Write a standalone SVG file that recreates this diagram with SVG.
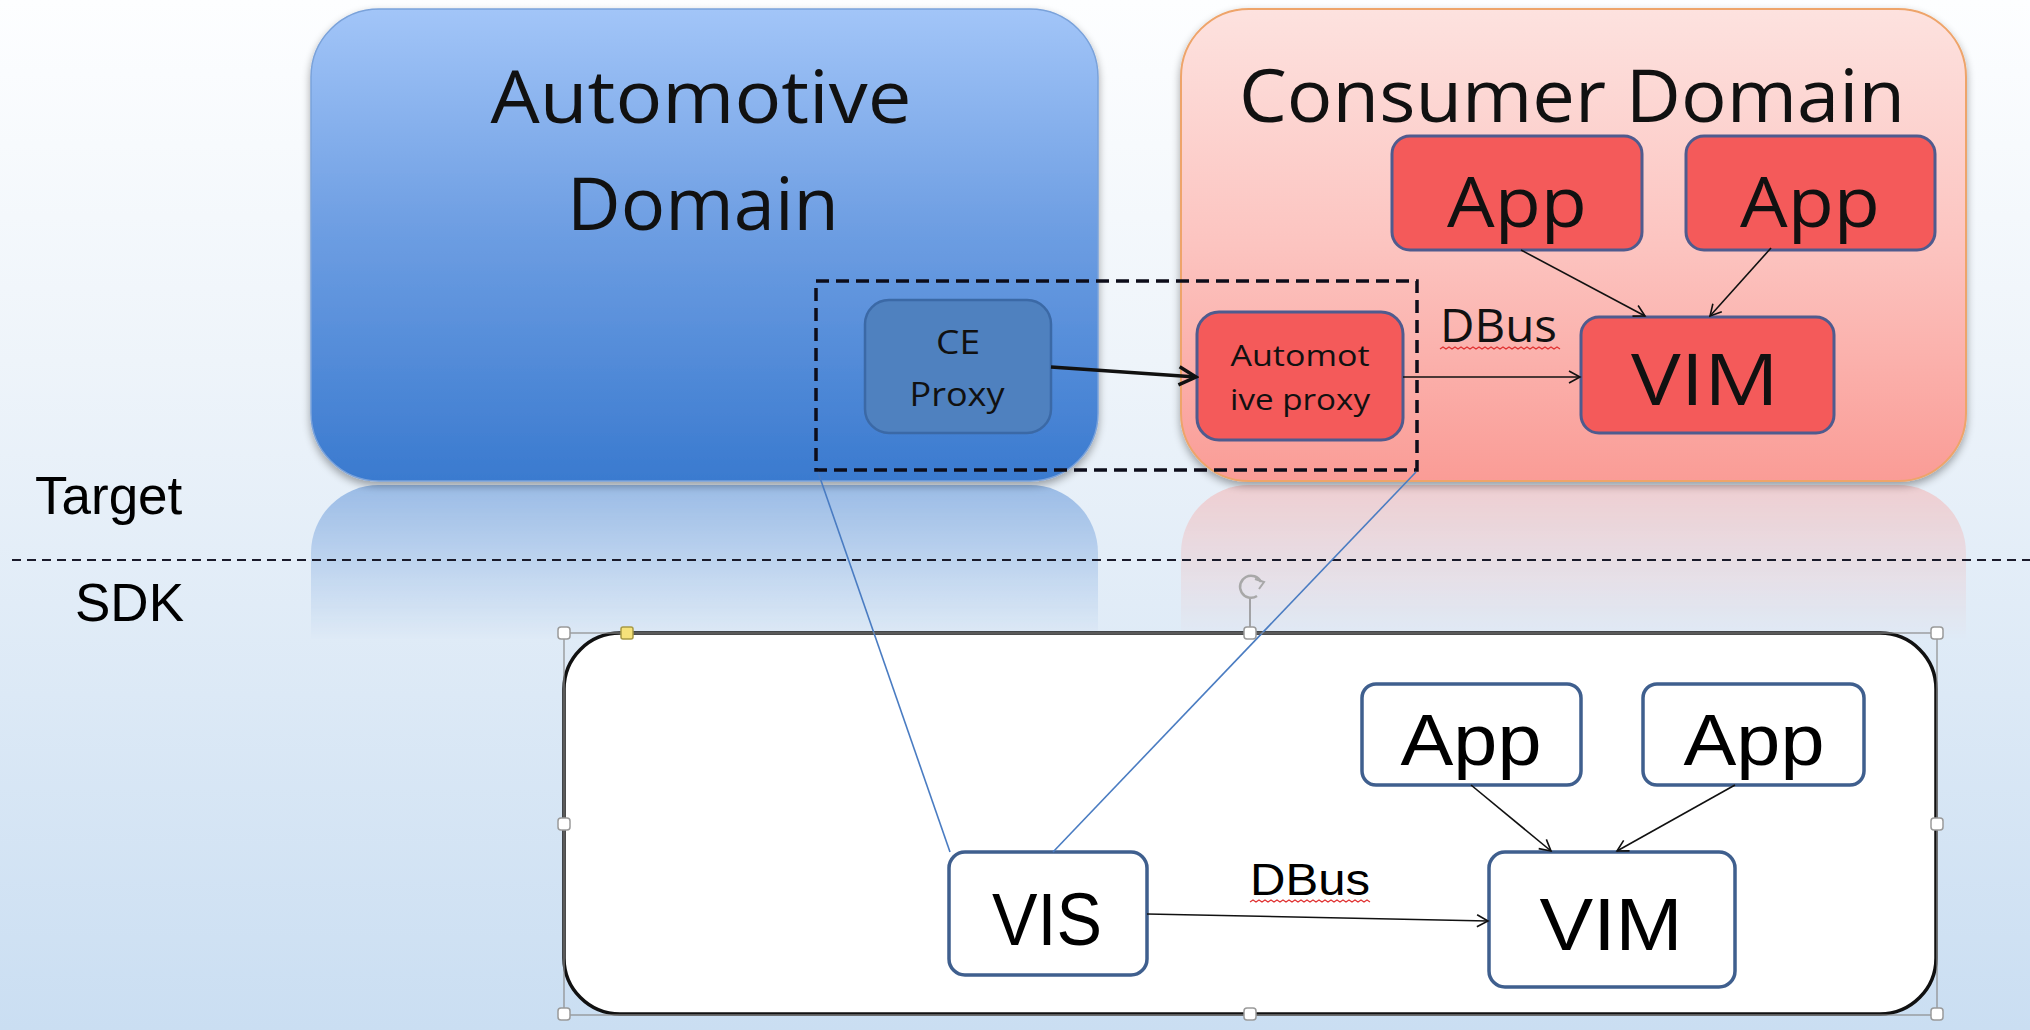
<svg xmlns="http://www.w3.org/2000/svg" width="2030" height="1030" viewBox="0 0 2030 1030">
<defs>
<linearGradient id="bg" x1="0" y1="0" x2="0" y2="1030" gradientUnits="userSpaceOnUse">
<stop offset="0" stop-color="#fdfeff"/><stop offset="0.35" stop-color="#eef4fa"/><stop offset="1" stop-color="#cadef2"/>
</linearGradient>
<linearGradient id="blueG" x1="0" y1="9" x2="0" y2="481" gradientUnits="userSpaceOnUse">
<stop offset="0" stop-color="#a2c5f8"/><stop offset="0.45" stop-color="#6f9fe3"/><stop offset="1" stop-color="#3a7acf"/>
</linearGradient>
<linearGradient id="pinkG" x1="0" y1="9" x2="0" y2="481" gradientUnits="userSpaceOnUse">
<stop offset="0" stop-color="#fde2df"/><stop offset="0.5" stop-color="#fcc4c0"/><stop offset="1" stop-color="#fa9c96"/>
</linearGradient>
<linearGradient id="reflG" x1="0" y1="483" x2="0" y2="640" gradientUnits="userSpaceOnUse">
<stop offset="0" stop-color="#fff" stop-opacity="0.45"/><stop offset="1" stop-color="#fff" stop-opacity="0"/>
</linearGradient>
<mask id="reflM" maskUnits="userSpaceOnUse" x="0" y="480" width="2030" height="200">
<rect x="0" y="480" width="2030" height="200" fill="url(#reflG)"/>
</mask>
<filter id="shadow" x="-5%" y="-5%" width="110%" height="115%">
<feGaussianBlur in="SourceAlpha" stdDeviation="4"/>
<feOffset dy="4" result="b"/>
<feComponentTransfer><feFuncA type="linear" slope="0.35"/></feComponentTransfer>
<feMerge><feMergeNode/><feMergeNode in="SourceGraphic"/></feMerge>
</filter>
<marker id="arr" viewBox="0 0 16 16" refX="14" refY="8" markerWidth="16" markerHeight="16" markerUnits="userSpaceOnUse" orient="auto">
<path d="M3,2 L14,8 L3,14" fill="none" stroke="#111" stroke-width="1.6"/>
</marker>
<marker id="arrThick" viewBox="0 0 24 24" refX="21" refY="12" markerWidth="24" markerHeight="24" markerUnits="userSpaceOnUse" orient="auto">
<path d="M4,3 L21,12 L4,21" fill="none" stroke="#111" stroke-width="3.5"/>
</marker>
<style>
.cal{font-family:"Open Sans","Noto Sans","Liberation Sans",sans-serif;fill:#111}
.ari{font-family:"Liberation Sans",Arial,sans-serif;fill:#000}
.red{fill:#f45a5a;stroke:#4f5b8e;stroke-width:3}
.wnode{fill:#fff;stroke:#3f5f8e;stroke-width:3.5}
.conn{fill:none;stroke:#111;stroke-width:1.6}
.blue{fill:none;stroke:#4a7cc2;stroke-width:1.6}
.handle{fill:#fff;stroke:#9a9a9a;stroke-width:1.5}
.squig{fill:none;stroke:#e03030;stroke-width:1.2}
</style>
</defs>

<rect x="0" y="0" width="2030" height="1030" fill="url(#bg)"/>

<!-- reflections -->
<g mask="url(#reflM)">
<rect x="311" y="485" width="787" height="472" rx="68" fill="#3a7acf"/>
<rect x="1181" y="485" width="785" height="472" rx="68" fill="#f7a4a0"/>
</g>

<!-- Target / SDK separator -->
<g id="separator">
<line x1="12" y1="560" x2="2030" y2="560" stroke="#1a1a2a" stroke-width="2" stroke-dasharray="9 6"/>
<text class="ari" x="35" y="514" font-size="53">Target</text>
<text class="ari" x="75" y="621" font-size="53">SDK</text>
</g>

<g id="automotive-domain">
<rect x="311" y="9" width="787" height="472" rx="68" fill="url(#blueG)" stroke="#7aa2da" stroke-width="1.5" filter="url(#shadow)"/>
<text class="cal" x="701" y="123" font-size="73" text-anchor="middle" textLength="421" lengthAdjust="spacingAndGlyphs">Automotive</text>
<text class="cal" x="703" y="230" font-size="73" text-anchor="middle" textLength="272" lengthAdjust="spacingAndGlyphs">Domain</text>
</g>

<g id="consumer-domain">
<rect x="1181" y="9" width="785" height="472" rx="68" fill="url(#pinkG)" stroke="#eea46a" stroke-width="2" filter="url(#shadow)"/>
<text class="cal" x="1572" y="122" font-size="73" text-anchor="middle" textLength="666" lengthAdjust="spacingAndGlyphs">Consumer Domain</text>
</g>

<g id="ce-proxy">
<rect x="865" y="300" width="186" height="133" rx="24" fill="#4f81bf" stroke="#3b69a6" stroke-width="2.5"/>
<text class="cal" x="958" y="354" font-size="32" text-anchor="middle" textLength="44" lengthAdjust="spacingAndGlyphs" fill="#1a1f33">CE</text>
<text class="cal" x="957" y="406" font-size="32" text-anchor="middle" textLength="95" lengthAdjust="spacingAndGlyphs" fill="#1a1f33">Proxy</text>
</g>

<g id="automotive-proxy">
<rect class="red" x="1197" y="312" width="206" height="128" rx="22"/>
<text class="cal" x="1300" y="366" font-size="30" text-anchor="middle" textLength="139" lengthAdjust="spacingAndGlyphs" fill="#2a0808">Automot</text>
<text class="cal" x="1300" y="410" font-size="30" text-anchor="middle" textLength="140" lengthAdjust="spacingAndGlyphs" fill="#2a0808">ive proxy</text>
</g>

<g id="app-target-1">
<rect class="red" x="1392" y="136" width="250" height="114" rx="18"/>
<text class="cal" x="1517" y="227" font-size="70" text-anchor="middle" textLength="140" lengthAdjust="spacingAndGlyphs">App</text>
</g>
<g id="app-target-2">
<rect class="red" x="1686" y="136" width="249" height="114" rx="18"/>
<text class="cal" x="1810" y="227" font-size="70" text-anchor="middle" textLength="140" lengthAdjust="spacingAndGlyphs">App</text>
</g>
<g id="vim-target">
<rect class="red" x="1581" y="317" width="253" height="116" rx="18"/>
<text class="cal" x="1705" y="405" font-size="71" text-anchor="middle" textLength="148" lengthAdjust="spacingAndGlyphs">VIM</text>
</g>

<g id="dbus-target-label">
<text class="cal" x="1440" y="342" font-size="46" textLength="117" lengthAdjust="spacingAndGlyphs">DBus</text>
<path class="squig" d="M1440,349 l3,-2 l3,2 l3,-2 l3,2 l3,-2 l3,2 l3,-2 l3,2 l3,-2 l3,2 l3,-2 l3,2 l3,-2 l3,2 l3,-2 l3,2 l3,-2 l3,2 l3,-2 l3,2 l3,-2 l3,2 l3,-2 l3,2 l3,-2 l3,2 l3,-2 l3,2 l3,-2 l3,2 l3,-2 l3,2 l3,-2 l3,2 l3,-2 l3,2 l3,-2 l3,2 l3,-2 l3,2"/>
</g>

<!-- dashed grouping box -->
<g id="proxy-group">
<rect x="816" y="281" width="601" height="189" fill="none" stroke="#0d0d1a" stroke-width="3.5" stroke-dasharray="13 7"/>
</g>

<!-- SDK box -->
<g id="sdk-box">
<rect x="564" y="633" width="1372" height="381" rx="56" fill="#fff" stroke="#111" stroke-width="3.5"/>
</g>

<g id="app-sdk-1">
<rect class="wnode" x="1362" y="684" width="219" height="101" rx="14"/>
<text class="ari" x="1471" y="765" font-size="72" text-anchor="middle" textLength="141" lengthAdjust="spacingAndGlyphs">App</text>
</g>
<g id="app-sdk-2">
<rect class="wnode" x="1643" y="684" width="221" height="101" rx="14"/>
<text class="ari" x="1754" y="765" font-size="72" text-anchor="middle" textLength="141" lengthAdjust="spacingAndGlyphs">App</text>
</g>
<g id="vis">
<rect class="wnode" x="949" y="852" width="198" height="123" rx="16"/>
<text class="ari" x="1047" y="945" font-size="74" text-anchor="middle" textLength="110" lengthAdjust="spacingAndGlyphs">VIS</text>
</g>
<g id="vim-sdk">
<rect class="wnode" x="1489" y="852" width="246" height="135" rx="16"/>
<text class="ari" x="1611" y="950" font-size="74" text-anchor="middle" textLength="143" lengthAdjust="spacingAndGlyphs">VIM</text>
</g>
<g id="dbus-sdk-label">
<text class="ari" x="1250" y="895" font-size="45" textLength="120" lengthAdjust="spacingAndGlyphs">DBus</text>
<path class="squig" d="M1250,902 l3,-2 l3,2 l3,-2 l3,2 l3,-2 l3,2 l3,-2 l3,2 l3,-2 l3,2 l3,-2 l3,2 l3,-2 l3,2 l3,-2 l3,2 l3,-2 l3,2 l3,-2 l3,2 l3,-2 l3,2 l3,-2 l3,2 l3,-2 l3,2 l3,-2 l3,2 l3,-2 l3,2 l3,-2 l3,2 l3,-2 l3,2 l3,-2 l3,2 l3,-2 l3,2 l3,-2 l3,2"/>
</g>

<!-- connectors -->
<g id="connectors">
<line x1="1051" y1="367" x2="1196" y2="377" stroke="#111" stroke-width="3.5" marker-end="url(#arrThick)"/>
<line class="conn" x1="1403" y1="377" x2="1580" y2="377" marker-end="url(#arr)"/>
<line class="conn" x1="1521" y1="250" x2="1645" y2="316" marker-end="url(#arr)"/>
<line class="conn" x1="1771" y1="248" x2="1710" y2="316" marker-end="url(#arr)"/>
<line class="conn" x1="1147" y1="914" x2="1488" y2="921" stroke-width="2" marker-end="url(#arr)"/>
<line class="conn" x1="1471" y1="785" x2="1551" y2="851" marker-end="url(#arr)"/>
<line class="conn" x1="1735" y1="785" x2="1617" y2="851" marker-end="url(#arr)"/>
<line class="blue" x1="818" y1="472" x2="950" y2="852"/>
<line class="blue" x1="1416" y1="472" x2="1053" y2="852"/>
</g>

<!-- selection frame and handles -->
<g id="selection">
<rect x="564" y="633" width="1373" height="382" fill="none" stroke="#8c8c8c" stroke-width="1.2"/>
<line x1="1250" y1="598" x2="1250" y2="627" stroke="#8c8c8c" stroke-width="1.5"/>
<path d="M1257,596 A11,11 0 1 1 1261,582" fill="none" stroke="#a8a8a8" stroke-width="2.5"/>
<path d="M1255,579 L1264,582 L1259,589" fill="none" stroke="#a8a8a8" stroke-width="2"/>
<rect class="handle" x="558" y="627" width="12" height="12" rx="3"/>
<rect class="handle" x="1244" y="627" width="12" height="12" rx="3"/>
<rect class="handle" x="1931" y="627" width="12" height="12" rx="3"/>
<rect class="handle" x="558" y="818" width="12" height="12" rx="3"/>
<rect class="handle" x="1931" y="818" width="12" height="12" rx="3"/>
<rect class="handle" x="558" y="1008" width="12" height="12" rx="3"/>
<rect class="handle" x="1244" y="1008" width="12" height="12" rx="3"/>
<rect class="handle" x="1931" y="1008" width="12" height="12" rx="3"/>
<rect x="621" y="627" width="12" height="12" rx="2" fill="#f6e27a" stroke="#a89a45" stroke-width="1.5"/>
</g>
</svg>
